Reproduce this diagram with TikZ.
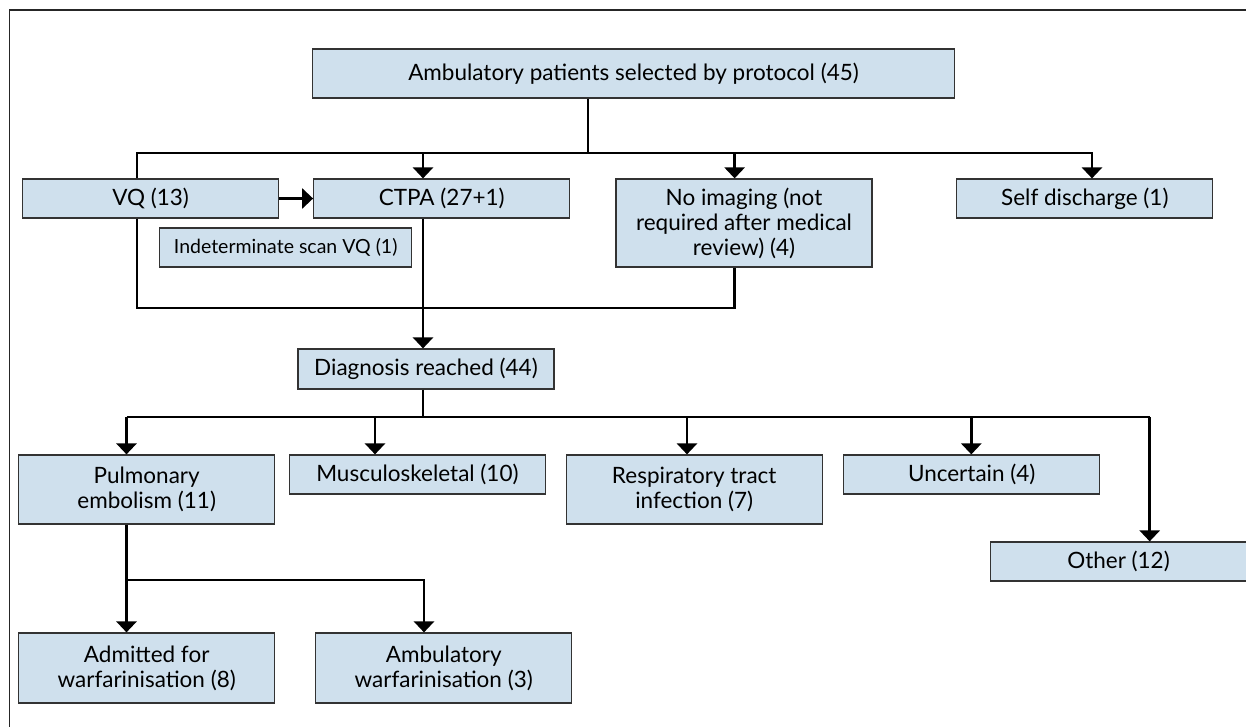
\documentclass[tikz,border=0pt]{standalone}
\usepackage{fontspec}
\setmainfont{Lato}
\usetikzlibrary{positioning}
\usetikzlibrary{calc}
\usetikzlibrary{arrows.meta}
\definecolor{box colour}{RGB}{207,224,237}
\colorlet{line colour}{black}
\colorlet{edge colour}{black!80}
\tikzset{
    % Wide filled heads on every flow line
    >={Triangle[length=11pt, width=20pt]},
%
    % Fills and lines
    box fill/.style={fill=box colour},
    link/.style={draw, color=line colour, line width=2.8pt},
    flow/.style={link, ->},
    frame/.style={draw, line width=1.3pt, black!85},
%
    every node/.style={align=center},
%
    box/.style={
        draw=edge colour, rectangle, line width=1.2pt, box fill,
        inner sep=0pt, minimum width=256pt, minimum height=39pt,
        font=\fontsize{22.5}{25}\selectfont},
    tall box/.style={box, minimum height=69pt},
    note box/.style={
        box, minimum width=252pt, font=\fontsize{19.5}{22}\selectfont},
}

\begin{document}
\begin{tikzpicture}[x=1pt, y=-1pt]

\clip (0,0) rectangle (1246,726);
\draw [frame] (9.5,10) rectangle (1290,770);

\path
    (633.5,73.5) node [box, minimum width=642pt, minimum height=49pt] (top)
        {Ambulatory patients selected by protocol (45)}
    (150.6,198.5) node [box] (vq) {VQ (13)}
    (441.7,198.5) node [box] (ctpa) {CTPA (27+1)}
    (285.7,247.5) node [note box] (indet) {Indeterminate scan VQ (1)}
    (744,223) node [box, minimum height=88pt] (noimg)
        {No imaging (not\\required after medical\\review) (4)}
    (1084.8,198.5) node [box] (self) {Self discharge (1)}
    (426,369) node [box, minimum height=40pt] (diag) {Diagnosis reached (44)}
    (146.7,489.5) node [tall box] (pe) {Pulmonary\\embolism (11)}
    (417.4,474.5) node [box] (msk) {Musculoskeletal (10)}
    (694.2,489.5) node [tall box] (rti) {Respiratory tract\\infection (7)}
    (971.7,474.5) node [box] (unc) {Uncertain (4)}
    (1118.5,561.5) node [box] (other) {Other (12)}
    (146.7,668) node [tall box, minimum height=70pt] (adm)
        {Admitted for\\warfarinisation (8)}
    (443.7,668) node [tall box, minimum height=70pt] (amb)
        {Ambulatory\\warfarinisation (3)};

\path
    (588,153) coordinate (split)
    (137,153) coordinate (vq up)
    (423,153) coordinate (ctpa in)
    (734.6,153) coordinate (noimg in)
    (1092,153) coordinate (self in)
    (137,308) coordinate (vq down)
    (734.6,308) coordinate (noimg out)
    (423,417) coordinate (branch)
    (126.5,417) coordinate (in-pe)
    (375,417) coordinate (in-msk)
    (687,417) coordinate (in-rti)
    (971.3,417) coordinate (in-unc)
    (1149.7,417) coordinate (in-other)
    (126.5,580) coordinate (pe split)
    (424,580) coordinate (amb in);

\draw [link] (top.south -| split) -- (split);
\draw [flow] (vq.north -| vq up) -- (vq up) -- (self in) -- (self in |- self.north);
\draw [flow] (ctpa in) -- (ctpa in |- ctpa.north);
\draw [flow] (noimg in) -- (noimg in |- noimg.north);
\draw [flow] (vq.east) -- (ctpa.west);
\draw [link] (vq.south -| vq down) -- (vq down) -- (noimg out) -- (noimg out |- noimg.south);
\draw [flow] (ctpa.south -| ctpa in) -- (diag.north -| ctpa in);

\draw [link] (diag.south -| branch) -- (branch);
\draw [link] (in-pe) -- (in-other);
\foreach \n in {pe, msk, rti, unc, other}
    \draw [flow] (in-\n) -- (in-\n |- \n.north);

\draw [flow] (pe.south -| pe split) -- (adm.north -| pe split);
\draw [flow] (pe split) -- (amb in) -- (amb in |- amb.north);

\end{tikzpicture}
\end{document}
